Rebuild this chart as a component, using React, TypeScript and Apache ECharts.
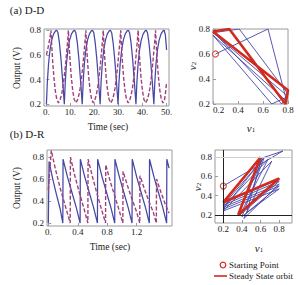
import React, { useEffect, useRef } from 'react';
import * as echarts from 'echarts';

const SERIF = '"Liberation Serif", "Times New Roman", serif';

// ---------- (a) D-D : time series ----------
const ddTimeTicks = [0, 10, 20, 30, 40, 50];
const voltTicks = [0.2, 0.4, 0.6, 0.8];

const ddV1: [number, number][] = [
  [0, 0.2], [0.4, 0.38], [0.9, 0.53], [1.5, 0.64], [2.2, 0.72], [3.0, 0.77], [3.8, 0.795], [4.3, 0.8], [4.8, 0.78], [5.4, 0.7], [6.1, 0.56], [6.8, 0.38], [7.45, 0.2],
  [7.85, 0.38], [8.35, 0.53], [8.95, 0.64], [9.65, 0.72], [10.45, 0.77], [11.25, 0.795], [11.75, 0.8], [12.25, 0.78], [12.85, 0.7], [13.55, 0.56], [14.25, 0.38], [14.9, 0.2],
  [15.3, 0.38], [15.8, 0.53], [16.4, 0.64], [17.1, 0.72], [17.9, 0.77], [18.7, 0.795], [19.2, 0.8], [19.7, 0.78], [20.3, 0.7], [21.0, 0.56], [21.7, 0.38], [22.35, 0.2],
  [22.75, 0.38], [23.25, 0.53], [23.85, 0.64], [24.55, 0.72], [25.35, 0.77], [26.15, 0.795], [26.65, 0.8], [27.15, 0.78], [27.75, 0.7], [28.45, 0.56], [29.15, 0.38], [29.8, 0.2],
  [30.2, 0.38], [30.7, 0.53], [31.3, 0.64], [32.0, 0.72], [32.8, 0.77], [33.6, 0.795], [34.1, 0.8], [34.6, 0.78], [35.2, 0.7], [35.9, 0.56], [36.6, 0.38], [37.25, 0.2],
  [37.65, 0.38], [38.15, 0.53], [38.75, 0.64], [39.45, 0.72], [40.25, 0.77], [41.05, 0.795], [41.55, 0.8], [42.05, 0.78], [42.65, 0.7], [43.35, 0.56], [44.05, 0.38], [44.7, 0.2],
  [45.1, 0.38], [45.6, 0.53], [46.2, 0.64], [46.9, 0.72], [47.7, 0.77], [48.5, 0.795], [49.0, 0.8], [49.5, 0.76], [50, 0.64],
];

const ddV2: [number, number][] = [
  [0, 0.6], [0.7, 0.66], [1.4, 0.73], [1.9, 0.8],
  [2.2, 0.68], [2.6, 0.55], [3.1, 0.42], [3.7, 0.31], [4.3, 0.24], [5.0, 0.21], [5.6, 0.23], [6.2, 0.27], [6.8, 0.33], [7.4, 0.42], [8.0, 0.53], [8.5, 0.64], [8.9, 0.73], [9.15, 0.8],
  [9.45, 0.68], [9.85, 0.55], [10.35, 0.42], [10.95, 0.31], [11.55, 0.24], [12.25, 0.21], [12.85, 0.23], [13.45, 0.27], [14.05, 0.33], [14.65, 0.42], [15.25, 0.53], [15.75, 0.64], [16.15, 0.73], [16.4, 0.8],
  [16.7, 0.68], [17.1, 0.55], [17.6, 0.42], [18.2, 0.31], [18.8, 0.24], [19.5, 0.21], [20.1, 0.23], [20.7, 0.27], [21.3, 0.33], [21.9, 0.42], [22.5, 0.53], [23.0, 0.64], [23.4, 0.73], [23.65, 0.8],
  [23.95, 0.68], [24.35, 0.55], [24.85, 0.42], [25.45, 0.31], [26.05, 0.24], [26.75, 0.21], [27.35, 0.23], [27.95, 0.27], [28.55, 0.33], [29.15, 0.42], [29.75, 0.53], [30.25, 0.64], [30.65, 0.73], [30.9, 0.8],
  [31.2, 0.68], [31.6, 0.55], [32.1, 0.42], [32.7, 0.31], [33.3, 0.24], [34.0, 0.21], [34.6, 0.23], [35.2, 0.27], [35.8, 0.33], [36.4, 0.42], [37.0, 0.53], [37.5, 0.64], [37.9, 0.73], [38.15, 0.8],
  [38.45, 0.68], [38.85, 0.55], [39.35, 0.42], [39.95, 0.31], [40.55, 0.24], [41.25, 0.21], [41.85, 0.23], [42.45, 0.27], [43.05, 0.33], [43.65, 0.42], [44.25, 0.53], [44.75, 0.64], [45.15, 0.73], [45.4, 0.8],
  [45.7, 0.68], [46.1, 0.55], [46.6, 0.42], [47.2, 0.31], [47.8, 0.24], [48.5, 0.21], [49.1, 0.23], [49.6, 0.3], [50, 0.38],
];

// ---------- (a) D-D : phase plane ----------
const ddStart: [number, number][] = [[0.22, 0.6]];
const ddTransient: [number, number][] = [
  [0.22, 0.6], [0.64, 0.8], [0.79, 0.22], [0.2, 0.75], [0.67, 0.2], [0.8, 0.26], [0.2, 0.77],
  [0.41, 0.8], [0.8, 0.28], [0.75, 0.2], [0.2, 0.78], [0.33, 0.8],
];
const ddOrbit: [number, number][] = [[0.2, 0.78], [0.33, 0.8], [0.78, 0.2], [0.8, 0.31], [0.2, 0.78]];

// ---------- (b) D-R : time series ----------
const drTimeTicks = [0, 0.4, 0.8, 1.2];
const drV1: [number, number][] = [
  [0, 0.2], [0.01, 0.76], [0.06, 0.6], [0.11, 0.46], [0.16, 0.33], [0.197, 0.2],
  [0.2, 0.78], [0.26, 0.62], [0.32, 0.48], [0.38, 0.34], [0.432, 0.2],
  [0.435, 0.78], [0.495, 0.62], [0.555, 0.48], [0.615, 0.34], [0.667, 0.2],
  [0.67, 0.78], [0.73, 0.62], [0.79, 0.48], [0.85, 0.34], [0.902, 0.2],
  [0.905, 0.78], [0.965, 0.62], [1.025, 0.48], [1.085, 0.34], [1.137, 0.2],
  [1.14, 0.78], [1.2, 0.62], [1.26, 0.48], [1.32, 0.34], [1.372, 0.2],
  [1.375, 0.78], [1.435, 0.62], [1.495, 0.48], [1.555, 0.34], [1.607, 0.2],
  [1.61, 0.78], [1.64, 0.7],
];
const drV2: [number, number][] = [
  [0, 0.5], [0.04, 0.86], [0.1, 0.68], [0.16, 0.52], [0.22, 0.38], [0.297, 0.2],
  [0.3, 0.8], [0.36, 0.63], [0.42, 0.48], [0.48, 0.34], [0.537, 0.2],
  [0.54, 0.78], [0.6, 0.62], [0.66, 0.47], [0.72, 0.33], [0.777, 0.2],
  [0.78, 0.73], [0.84, 0.58], [0.9, 0.45], [0.96, 0.32], [1.012, 0.2],
  [1.015, 0.67], [1.075, 0.54], [1.135, 0.42], [1.195, 0.31], [1.242, 0.2],
  [1.245, 0.63], [1.305, 0.51], [1.365, 0.4], [1.425, 0.3], [1.467, 0.2],
  [1.47, 0.6], [1.53, 0.48], [1.59, 0.37], [1.64, 0.29],
];

// ---------- (b) D-R : phase plane ----------
const drStart: [number, number][] = [[0.2, 0.5]];
const drTransient: [number, number][] = [
  [0.2, 0.5], [0.84, 0.866], [0.61, 0.79], [0.45, 0.22], [0.8, 0.47], [0.2, 0.24], [0.72, 0.76],
  [0.42, 0.16], [0.8, 0.52], [0.2, 0.28], [0.68, 0.78], [0.38, 0.2], [0.8, 0.55], [0.2, 0.3],
  [0.64, 0.8], [0.4, 0.18], [0.8, 0.5], [0.2, 0.26], [0.62, 0.78], [0.36, 0.21], [0.8, 0.57],
  [0.2, 0.32], [0.6, 0.8],
];
const drOrbit: [number, number][] = [[0.2, 0.33], [0.6, 0.8], [0.36, 0.2], [0.8, 0.58], [0.2, 0.33]];
const phaseTicks = [0.2, 0.4, 0.6, 0.8];

const BLUE = '#4646a6';
const PURPLE = '#a0407a';
const RED = '#d22a1c';
const FRAME = '#9a9a9a';

function axis(gridIndex: number, min: number, max: number, ticks: number[], fmt: (v: number) => string, isY: boolean, extra: any = {}) {
  return {
    type: 'value',
    gridIndex,
    min,
    max,
    axisLine: { show: false },
    splitLine: { show: false },
    axisTick: { show: true, inside: true, length: 3, lineStyle: { color: FRAME, width: 1 }, customValues: ticks },
    axisLabel: {
      customValues: ticks,
      formatter: fmt,
      fontFamily: SERIF,
      fontSize: 9,
      color: '#1a1a1a',
      margin: isY ? 3 : 1,
      ...(extra.label || {}),
    },
  };
}

const f1 = (v: number) => (Math.abs(v) < 1e-9 ? '0.' : v.toFixed(1));
const fInt = (v: number) => `${Math.round(v)}.`;

const subRich = {
  i: { fontFamily: SERIF, fontStyle: 'italic', fontSize: 11, lineHeight: 13, verticalAlign: 'bottom', fill: '#1a1a1a' },
  s: { fontFamily: SERIF, fontSize: 7, lineHeight: 7, verticalAlign: 'bottom', fill: '#1a1a1a' },
};

function label(text: string, x: number, y: number, size: number, rot = 0) {
  return {
    type: 'text',
    x,
    y,
    rotation: rot,
    style: { text, fontFamily: SERIF, fontSize: size, fill: '#1a1a1a', align: 'center', verticalAlign: 'middle' },
  };
}
function subLabel(base: string, sub: string, x: number, y: number, rot = 0) {
  return {
    type: 'text',
    x,
    y,
    rotation: rot,
    style: { text: `{i|${base}}{s|${sub}}`, rich: subRich, align: 'center', verticalAlign: 'middle' },
  };
}

export default function App() {
  const ref = useRef<HTMLDivElement>(null);
  useEffect(() => {
    const chart = echarts.init(ref.current!, null, { renderer: 'svg' });
    const option: any = {
      animation: false,
      backgroundColor: '#ffffff',
      grid: [
        { left: 44, top: 29, width: 125, height: 77, show: true, borderColor: FRAME, borderWidth: 1 },
        { left: 213, top: 29, width: 75, height: 75, show: true, borderColor: FRAME, borderWidth: 1 },
        { left: 47, top: 150, width: 125, height: 76, show: true, borderColor: FRAME, borderWidth: 1 },
        { left: 215, top: 150, width: 77, height: 73, show: true, borderColor: FRAME, borderWidth: 1 },
      ],
      xAxis: [
        axis(0, -1, 51, ddTimeTicks, fInt, false),
        axis(1, 0.2, 0.8, phaseTicks, f1, false, { label: { alignMinLabel: 'left' } }),
        axis(2, -0.018, 1.68, drTimeTicks, f1, false),
        axis(3, 0.111, 0.937, phaseTicks, f1, false),
      ],
      yAxis: [
        axis(0, 0.185, 0.81, voltTicks, f1, true),
        axis(1, 0.2, 0.8, phaseTicks, f1, true),
        axis(2, 0.173, 0.864, voltTicks, f1, true),
        axis(3, 0.114, 0.876, phaseTicks, f1, true),
      ],
      series: [
        { type: 'line', xAxisIndex: 0, yAxisIndex: 0, data: ddV1, showSymbol: false, lineStyle: { color: BLUE, width: 1.25 } },
        { type: 'line', xAxisIndex: 0, yAxisIndex: 0, data: ddV2, showSymbol: false, lineStyle: { color: PURPLE, width: 1.4, type: [4, 2] } },
        { type: 'line', xAxisIndex: 1, yAxisIndex: 1, data: ddTransient, showSymbol: false, lineStyle: { color: BLUE, width: 0.9 } },
        { type: 'line', xAxisIndex: 1, yAxisIndex: 1, data: ddOrbit, showSymbol: false, lineStyle: { color: RED, width: 2.6 } },
        { type: 'scatter', xAxisIndex: 1, yAxisIndex: 1, data: ddStart, symbol: 'circle', symbolSize: 6, itemStyle: { color: '#fff', borderColor: RED, borderWidth: 1.2 } },
        { type: 'line', xAxisIndex: 2, yAxisIndex: 2, data: drV1, showSymbol: false, lineStyle: { color: BLUE, width: 1.25 } },
        { type: 'line', xAxisIndex: 2, yAxisIndex: 2, data: drV2, showSymbol: false, lineStyle: { color: PURPLE, width: 1.4, type: [4, 2] } },
        {
          type: 'line', xAxisIndex: 3, yAxisIndex: 3, data: drTransient, showSymbol: false, lineStyle: { color: BLUE, width: 0.9 },
          markLine: {
            silent: true, symbol: 'none', label: { show: false },
            data: [
              { xAxis: 0.2, lineStyle: { color: '#222', width: 1, type: 'solid' } },
              { yAxis: 0.2, lineStyle: { color: '#222', width: 1, type: 'solid' } },
              { yAxis: 0.8, lineStyle: { color: '#cfcfcf', width: 1, type: 'solid' } },
            ],
          },
        },
        { type: 'line', xAxisIndex: 3, yAxisIndex: 3, data: drOrbit, showSymbol: false, lineStyle: { color: RED, width: 2.6 } },
        { type: 'scatter', xAxisIndex: 3, yAxisIndex: 3, data: drStart, symbol: 'circle', symbolSize: 6, itemStyle: { color: '#fff', borderColor: RED, borderWidth: 1.2 } },
      ],
      graphic: [
        label('(a) D-D', 27, 10, 11),
        label('(b) D-R', 27, 134, 11),
        label('Output (V)', 17, 68, 9.5, Math.PI / 2),
        label('Time (sec)', 108, 127, 9.5),
        subLabel('v', '1', 251, 127),
        subLabel('v', '2', 191, 66, Math.PI / 2),
        label('Output (V)', 17, 188, 9.5, Math.PI / 2),
        label('Time (sec)', 110, 247, 9.5),
        subLabel('v', '1', 259, 247),
        subLabel('v', '2', 196, 187, Math.PI / 2),
        { type: 'circle', shape: { cx: 223, cy: 265, r: 2.8 }, style: { fill: '#fff', stroke: RED, lineWidth: 1.2 } },
        { type: 'text', x: 229, y: 265, style: { text: 'Starting Point', fontFamily: SERIF, fontSize: 9, fill: '#1a1a1a', align: 'left', verticalAlign: 'middle' } },
        { type: 'line', shape: { x1: 214, y1: 276, x2: 227, y2: 276 }, style: { stroke: RED, lineWidth: 1.6 } },
        { type: 'text', x: 229, y: 276, style: { text: 'Steady State orbit', fontFamily: SERIF, fontSize: 9, fill: '#1a1a1a', align: 'left', verticalAlign: 'middle' } },
      ],
    };
    chart.setOption(option);
    return () => chart.dispose();
  }, []);
  return <div ref={ref} style={{ position: 'fixed', left: 0, top: 0, width: 298, height: 285, background: '#fff' }} />;
}
